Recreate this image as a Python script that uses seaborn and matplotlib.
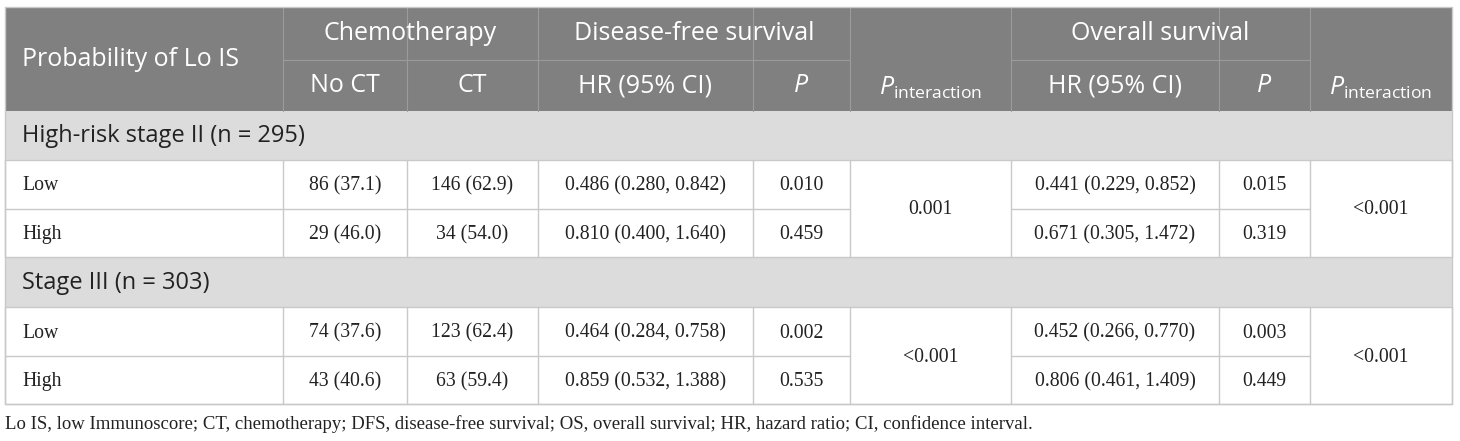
import matplotlib
matplotlib.use('Agg')
import matplotlib.pyplot as plt
from matplotlib.patches import Rectangle
import seaborn as sns

# table content
groups = ['High-risk stage II (n = 295)', 'Stage III (n = 303)']
levels = ['Low', 'High']
no_ct = [['86 (37.1)', '29 (46.0)'], ['74 (37.6)', '43 (40.6)']]
ct = [['146 (62.9)', '34 (54.0)'], ['123 (62.4)', '63 (59.4)']]
dfs_hr = [['0.486 (0.280, 0.842)', '0.810 (0.400, 1.640)'],
          ['0.464 (0.284, 0.758)', '0.859 (0.532, 1.388)']]
dfs_p = [['0.010', '0.459'], ['0.002', '0.535']]
dfs_pint = ['0.001', '<0.001']
os_hr = [['0.441 (0.229, 0.852)', '0.671 (0.305, 1.472)'],
         ['0.452 (0.266, 0.770)', '0.806 (0.461, 1.409)']]
os_p = [['0.015', '0.319'], ['0.003', '0.449']]
os_pint = ['<0.001', '<0.001']
footnote = ('Lo IS, low Immunoscore; CT, chemotherapy; DFS, disease-free survival; '
            'OS, overall survival; HR, hazard ratio; CI, confidence interval.')

sns.set_theme(style='white')
plt.rcParams['font.family'] = ['Open Sans', 'DejaVu Sans']
plt.rcParams['mathtext.fontset'] = 'custom'
plt.rcParams['mathtext.rm'] = 'Open Sans'
plt.rcParams['mathtext.it'] = 'Open Sans:italic'

# layout in pixels
xs = [5, 283, 407, 538, 753, 850, 1011, 1219, 1310, 1452]
ys = [7, 60, 111, 160, 209, 257, 307, 356, 404]

HEAD = '#808080'
SECT = '#dcdcdc'
GRID = '#c9c9c9'
HLINE = '#9b9b9b'
SERIF = 'Liberation Serif'
HS = 18
SS = 17

fig = plt.figure(figsize=(14.6, 4.41), dpi=100)
ax = fig.add_axes([0, 0, 1, 1])
ax.set_xlim(0, 1460)
ax.set_ylim(441, 0)
ax.axis('off')

# header background
ax.add_patch(Rectangle((xs[0], ys[0]), xs[-1] - xs[0], ys[2] - ys[0], color=HEAD, lw=0))
# header lines
for x in xs[1:-1]:
    ax.plot([x, x], [ys[0], ys[2]], color=HLINE, lw=0.8)
ax.plot([xs[1], xs[5]], [ys[1], ys[1]], color=HLINE, lw=0.8)
ax.plot([xs[6], xs[8]], [ys[1], ys[1]], color=HLINE, lw=0.8)

hkw = dict(color='white', fontsize=HS, va='center')
ax.text(22, (ys[0] + ys[2]) / 2 + 1, 'Probability of Lo IS', ha='left', **hkw)
row1 = 34
ax.text((xs[1] + xs[3]) / 2, row1, 'Chemotherapy', ha='center', **hkw)
ax.text((xs[3] + xs[5]) / 2, row1, 'Disease-free survival', ha='center', **hkw)
ax.text((xs[6] + xs[8]) / 2, row1, 'Overall survival', ha='center', **hkw)
row2 = 86
ax.text((xs[1] + xs[2]) / 2, row2, 'No CT', ha='center', **hkw)
ax.text((xs[2] + xs[3]) / 2, row2, 'CT', ha='center', **hkw)
ax.text((xs[3] + xs[4]) / 2, row2, 'HR (95% CI)', ha='center', **hkw)
ax.text((xs[4] + xs[5]) / 2, row2, 'P', ha='center', style='italic', **hkw)
ax.text((xs[6] + xs[7]) / 2, row2, 'HR (95% CI)', ha='center', **hkw)
ax.text((xs[7] + xs[8]) / 2, row2, 'P', ha='center', style='italic', **hkw)
for c in (5, 8):
    ax.text((xs[c] + xs[c + 1]) / 2, row2 + 2, r'$P_{\mathrm{interaction}}$', ha='center', **hkw)

# body
bkw = dict(fontsize=14.2, family=SERIF, color='#222222', va='center', ha='center')
for g, grp in enumerate(groups):
    y0, y1, y2, y3 = ys[3 * g + 2], ys[3 * g + 3], ys[3 * g + 4], ys[3 * g + 5]
    ax.add_patch(Rectangle((xs[0], y0), xs[-1] - xs[0], y1 - y0, color=SECT, lw=0))
    ax.text(22, (y0 + y1) / 2 + 1, grp, fontsize=SS, color='#222222', va='center', ha='left')
    # grid lines
    ax.plot([xs[0], xs[-1]], [y1, y1], color=GRID, lw=1)
    ax.plot([xs[0], xs[-1]], [y3, y3], color=GRID, lw=1)
    for a, b in [(0, 5), (6, 8)]:
        ax.plot([xs[a], xs[b]], [y2, y2], color=GRID, lw=1)
    for x in xs:
        ax.plot([x, x], [y1, y3], color=GRID, lw=1)
    for r, lev in enumerate(levels):
        yc = (ys[3 * g + 3 + r] + ys[3 * g + 4 + r]) / 2 + 1.5
        ax.text(22, yc, lev, **{**bkw, 'ha': 'left'})
        vals = [no_ct[g][r], ct[g][r], dfs_hr[g][r], dfs_p[g][r], None,
                os_hr[g][r], os_p[g][r]]
        for c, v in enumerate(vals):
            if v is None:
                continue
            ax.text((xs[c + 1] + xs[c + 2]) / 2, yc, v, **bkw)
    ax.text((xs[5] + xs[6]) / 2, (y1 + y3) / 2 + 1.5, dfs_pint[g], **bkw)
    ax.text((xs[8] + xs[9]) / 2, (y1 + y3) / 2 + 1.5, os_pint[g], **bkw)

# outer border
ax.plot([xs[0], xs[-1], xs[-1], xs[0], xs[0]], [ys[0], ys[0], ys[-1], ys[-1], ys[0]],
        color=GRID, lw=1)

ax.text(xs[0], 424, footnote, fontsize=13.5, family=SERIF, color='#222222',
        ha='left', va='center')

fig.savefig('out.png', dpi=100)
